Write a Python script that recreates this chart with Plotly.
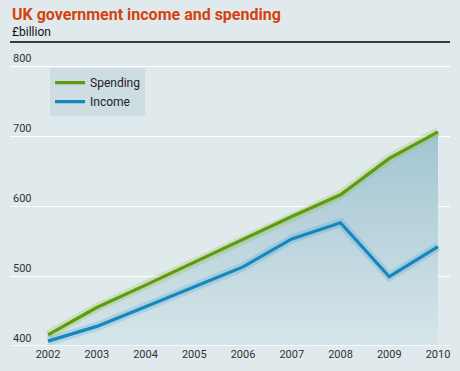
import plotly.graph_objects as go

years = [2002, 2003, 2004, 2005, 2006, 2007, 2008, 2009, 2010]
spending = [416, 455, 487, 520, 553, 585, 616, 668, 706]
income = [407, 428, 456, 485, 513, 553, 576, 499, 542]
y_ticks = [400, 500, 600, 700, 800]

GREEN = "#5f9a12"
BLUE = "#1a85ba"
BG = "#e0eaec"

fig = go.Figure()

# baseline for fill
fig.add_trace(go.Scatter(x=years, y=[400] * len(years), mode="lines",
                         line=dict(width=0), showlegend=False, hoverinfo="skip"))
fig.add_trace(go.Scatter(x=years, y=spending, mode="lines", fill="tonexty",
                         line=dict(width=0),
                         fillgradient=dict(type="vertical", start=400, stop=710,
                                           colorscale=[[0, "rgba(215,229,233,1)"],
                                                       [1, "rgba(160,196,210,1)"]]),
                         showlegend=False, hoverinfo="skip"))
# glows
fig.add_trace(go.Scatter(x=years, y=spending, mode="lines",
                         line=dict(color="rgba(140,190,40,0.25)", width=9),
                         showlegend=False, hoverinfo="skip"))
fig.add_trace(go.Scatter(x=years, y=income, mode="lines",
                         line=dict(color="rgba(40,160,210,0.22)", width=9),
                         showlegend=False, hoverinfo="skip"))
fig.add_trace(go.Scatter(x=years, y=spending, mode="lines", name="Spending",
                         line=dict(color=GREEN, width=3.2)))
fig.add_trace(go.Scatter(x=years, y=income, mode="lines", name="Income",
                         line=dict(color=BLUE, width=3.2)))

fig.update_layout(
    width=460, height=371,
    margin=dict(l=10, r=10, t=42, b=25),
    paper_bgcolor=BG, plot_bgcolor=BG,
    font=dict(family="Roboto, sans-serif", color="#222", size=11),
    showlegend=True,
    legend=dict(x=0.091, y=0.914, xanchor="left", yanchor="top",
                bgcolor="#cddde2", borderwidth=0, traceorder="normal",
                font=dict(size=12, color="#222"),
                itemwidth=30, tracegroupgap=2, entrywidth=62),
    xaxis=dict(range=[2001.22, 2010.246], tickmode="array", tickvals=years,
               ticktext=[str(y) for y in years], showgrid=False, zeroline=False,
               showline=False, ticks="", tickfont=dict(size=11, color="#333")),
    yaxis=dict(range=[400, 834.3], tickmode="array", tickvals=y_ticks,
               ticktext=[str(v) for v in y_ticks], showgrid=True,
               gridcolor="white", gridwidth=1.3, zeroline=False, showline=False,
               ticks="", ticklabelposition="inside top",
               tickfont=dict(size=11, color="#333")),
    annotations=[
        dict(text="<b>UK government income and spending</b>", x=0, y=1.0,
             xref="paper", yref="paper", xanchor="left", yanchor="bottom",
             yshift=16, showarrow=False,
             font=dict(size=16, color="#d4420f", family="Roboto, sans-serif")),
        dict(text="£billion", x=0, y=1.0, xref="paper", yref="paper",
             xanchor="left", yanchor="bottom", yshift=1, showarrow=False,
             font=dict(size=12, color="#111")),
    ],
    shapes=[
        dict(type="line", xref="paper", yref="paper", x0=0, x1=1, y0=1, y1=1,
             line=dict(color="black", width=1.5)),
        dict(type="line", xref="paper", yref="y", x0=0, x1=1, y0=400, y1=400,
             line=dict(color="white", width=1.3)),
    ],
)

fig.write_html("out.html", config={"displayModeBar": False},
               post_script="document.body.style.margin='0';document.body.style.overflow='hidden';")
